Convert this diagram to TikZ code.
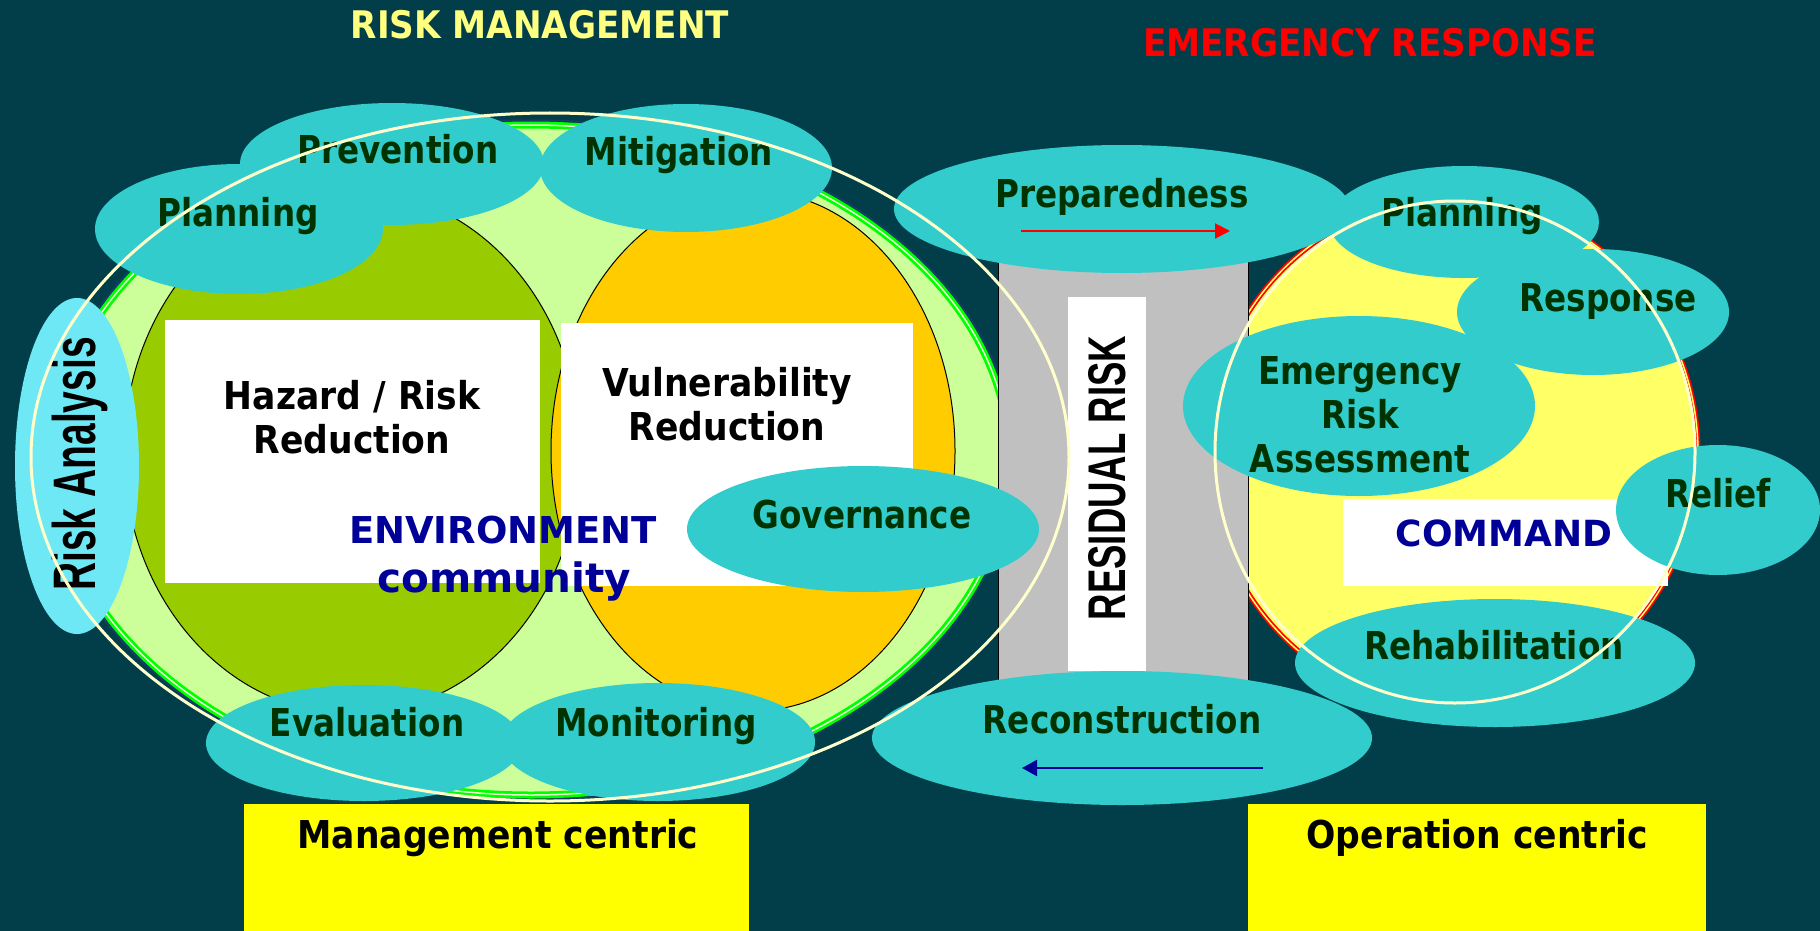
\documentclass[tikz,border=0pt]{standalone}
\usepackage{fontspec}
\setmainfont{DejaVu Sans}
\newfontfamily\arialfont{Liberation Sans}
\newfontfamily\labfont{DejaVu Sans}[FakeStretch=0.85]
\newfontfamily\capfont{DejaVu Sans}[FakeStretch=0.9]
\usetikzlibrary{shapes.geometric,arrows.meta}
\definecolor{bgc}{HTML}{023E4A}
\definecolor{lgreen}{HTML}{CCFF99}
\definecolor{ringgreen}{HTML}{00FF00}
\definecolor{ringpale}{HTML}{E8FFD0}
\definecolor{ringnavy}{HTML}{1A3A6A}
\definecolor{hazgreen}{HTML}{99CC00}
\definecolor{orangec}{HTML}{FFCC00}
\definecolor{cyanc}{HTML}{33CCCC}
\definecolor{lcyan}{HTML}{6EE8F4}
\definecolor{labgreen}{HTML}{003300}
\definecolor{grayc}{HTML}{C0C0C0}
\definecolor{yellc}{HTML}{FFFF66}
\definecolor{paleline}{HTML}{FFFFCC}
\definecolor{dblue}{HTML}{000099}
\definecolor{titley}{HTML}{FFFF80}
\definecolor{boxy}{HTML}{FFFF00}
\newcommand\myfs[1]{\fontsize{#1}{#1}\selectfont}
\tikzset{
  cell/.style={ellipse, fill=cyanc, inner sep=0pt, draw=none},
  lab/.style={font=\labfont\bfseries\myfs{38.4}, text=labgreen, inner sep=0pt, anchor=base},
  blk/.style={font=\capfont\bfseries\myfs{38.4}, text=black, inner sep=0pt, anchor=base},
  env/.style={font=\bfseries\myfs{37}, text=dblue, inner sep=0pt, anchor=base},
  ttl/.style={font=\capfont\bfseries\myfs{38}, inner sep=0pt, anchor=base},
  outl/.style={draw=paleline, line width=3pt},
}
\begin{document}
\begin{tikzpicture}[x=1pt,y=-1pt]
\useasboundingbox (0,0) rectangle (1820,931);
\fill[bgc] (0,0) rectangle (1820,931);

% big risk-management ellipse with green ring
\fill[lgreen] (531,460) ellipse [x radius=479pt, y radius=336pt];
\draw[ringnavy, line width=1.5pt] (531,460) ellipse [x radius=483pt, y radius=340pt];
\draw[ringgreen, line width=7pt] (531,460) ellipse [x radius=478pt, y radius=335pt];
\draw[ringpale, line width=1.5pt] (531,460) ellipse [x radius=478pt, y radius=335pt];

% hazard and vulnerability ellipses
\filldraw[fill=hazgreen, draw=black, line width=1pt] (352,452) ellipse [x radius=228pt, y radius=262pt];
\filldraw[fill=orangec, draw=black, line width=1pt] (753,451) ellipse [x radius=202pt, y radius=260pt];

% white boxes
\fill[white] (165,320) rectangle (540,583);
\fill[white] (561,323) rectangle (913,586);
\node[blk] (haz1) at (352,409) {Hazard / Risk};
\node[blk] (haz2) at (352,453) {Reduction};
\node[blk] (vul1) at (727,396) {Vulnerability};
\node[blk] (vul2) at (727,440) {Reduction};

% emergency response ellipse
\fill[yellc] (1453,453) ellipse [x radius=245pt, y radius=255pt];
\draw[red, line width=5pt] (1453,453) ellipse [x radius=245pt, y radius=255pt];
\draw[yellc, line width=1.5pt] (1453,453) ellipse [x radius=245pt, y radius=255pt];

% residual risk column
\fill[grayc] (998,250) rectangle (1248,690);
\draw[black, line width=1pt] (998,250) -- (998,690) (1248,250) -- (1248,690);
\fill[white] (1068,297) rectangle (1146,671);
\node[inner sep=0pt, rotate=90, font=\arialfont\bfseries\myfs{53}] (resid) at (1107,478) {\scalebox{0.69}[1]{RESIDUAL RISK}};

% command box
\fill[white] (1343,499) rectangle (1668,586);
\node[env, font=\bfseries\myfs{36}] (cmd) at (1504,546) {COMMAND};

% risk analysis
\node[ellipse, fill=lcyan, inner sep=0pt, minimum width=124pt, minimum height=336pt] (ra) at (77,466) {};
\node[inner sep=0pt, rotate=90, font=\arialfont\bfseries\myfs{60}] (ratext) at (80,464) {\scalebox{0.65}[1]{Risk Analysis}};

% cyan ellipses
\node[cell, minimum width=288pt, minimum height=130pt] (planL) at (239,229) {};
\node[cell, minimum width=304pt, minimum height=122pt] (prev) at (392,164) {};
\node[cell, minimum width=292pt, minimum height=128pt] (miti) at (686,168) {};
\node[cell, minimum width=456pt, minimum height=128pt] (prep) at (1122,209) {};
\node[cell, minimum width=270pt, minimum height=112pt] (planR) at (1464,222) {};
\node[cell, minimum width=272pt, minimum height=126pt] (resp) at (1593,312) {};
\node[cell, minimum width=352pt, minimum height=180pt] (era) at (1359,406) {};
\node[cell, minimum width=204pt, minimum height=130pt] (relief) at (1718,510) {};
\node[cell, minimum width=352pt, minimum height=126pt] (gov) at (863,529) {};
\node[cell, minimum width=400pt, minimum height=128pt] (rehab) at (1495,663) {};
\node[cell, minimum width=500pt, minimum height=134pt] (recon) at (1122,738) {};
\node[cell, minimum width=316pt, minimum height=116pt] (eval) at (364,743) {};
\node[cell, minimum width=314pt, minimum height=118pt] (moni) at (658,742) {};

% labels
\node[lab] (tplanL) at (238,226) {Planning};
\node[lab] (tprev) at (398,164) {Prevention};
\node[lab] (tmiti) at (679,165) {Mitigation};
\node[lab] (tprep) at (1122,207) {Preparedness};
\node[lab] (tplanR) at (1462,226) {Planning};
\node[lab] (tresp) at (1608,311) {Response};
\node[lab] (tera1) at (1360,384) {Emergency};
\node[lab] (tera2) at (1360,428) {Risk};
\node[lab] (tera3) at (1360,472) {Assessment};
\node[lab] (trelief) at (1718,507) {Relief};
\node[lab] (tgov) at (862,528) {Governance};
\node[lab] (trehab) at (1494,659) {Rehabilitation};
\node[lab] (trecon) at (1122,733) {Reconstruction};
\node[lab] (teval) at (367,736) {Evaluation};
\node[lab] (tmoni) at (656,736) {Monitoring};

% arrows
\coordinate (pa1) at (1021,231);
\coordinate (pa2) at (1230,231);
\draw[red, line width=2pt, -{Triangle[length=15pt,width=15pt]}] (pa1) -- (pa2);
\coordinate (ra1) at (1263,768);
\coordinate (ra2) at (1022,768);
\draw[dblue, line width=2pt, -{Triangle[length=15pt,width=16pt]}] (ra1) -- (ra2);

% environment / community
\node[env] (envt) at (503,543) {ENVIRONMENT};
\node[env, font=\bfseries\myfs{40.5}] (comm) at (504,592) {community};

% pale outlines
\draw[outl] (550,457) ellipse [x radius=519pt, y radius=344pt];
\draw[outl] (1455,452) ellipse [x radius=240pt, y radius=251pt];

% titles
\node[ttl, text=titley] (t1) at (540,39) {RISK MANAGEMENT};
\node[ttl, text=red] (t2) at (1370,57) {EMERGENCY RESPONSE};

% bottom boxes
\fill[boxy] (244,804) rectangle (749,931);
\node[blk] (mc) at (498,848) {Management centric};
\fill[boxy] (1248,804) rectangle (1706,931);
\node[blk] (oc) at (1477,848) {Operation centric};
\end{tikzpicture}
\end{document}
